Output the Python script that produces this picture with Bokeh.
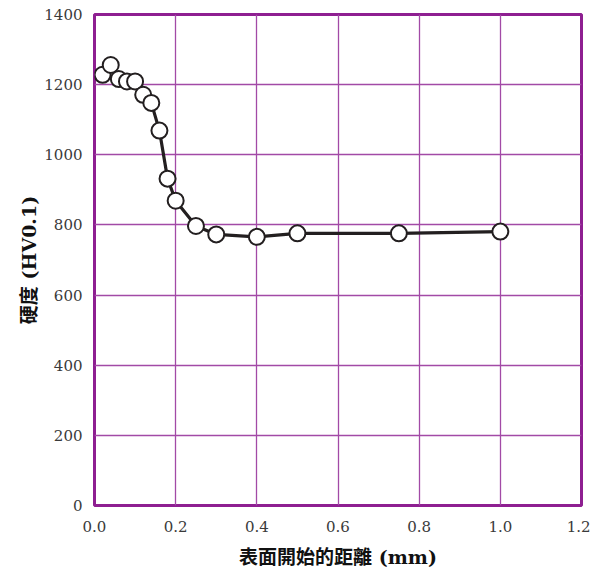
from bokeh.plotting import figure
from bokeh.models import ColumnDataSource, FixedTicker, Range1d
from bokeh.embed import file_html
from bokeh.resources import INLINE

# Data
distance_mm = [0.02, 0.04, 0.06, 0.08, 0.10, 0.12, 0.14, 0.16, 0.18, 0.20, 0.25, 0.30, 0.40, 0.50, 0.75, 1.00]
hardness_hv = [1228, 1256, 1216, 1209, 1209, 1171, 1148, 1069, 932, 869, 797, 773, 766, 776, 776, 781]

x_ticks = [0.0, 0.2, 0.4, 0.6, 0.8, 1.0, 1.2]
x_tick_labels = ["0.0", "0.2", "0.4", "0.6", "0.8", "1.0", "1.2"]
y_ticks = [0, 200, 400, 600, 800, 1000, 1200, 1400]

x_label = "表面開始的距離 (mm)"
y_label = "硬度 (HV0.1)"

PURPLE = "#8e1f91"
GRID = "#a24aa6"
INK = "#231f20"
SERIF = "DejaVu Serif, Noto Sans CJK TC"

src = ColumnDataSource(dict(x=distance_mm, y=hardness_hv))

p = figure(width=590, height=570, output_backend="svg", toolbar_location=None,
           x_range=Range1d(0, 1.2), y_range=Range1d(0, 1400),
           min_border_left=94, min_border_right=9, min_border_top=14, min_border_bottom=62)

p.background_fill_color = "white"
p.border_fill_color = "white"
p.outline_line_color = PURPLE
p.outline_line_width = 3

p.xaxis.ticker = FixedTicker(ticks=x_ticks)
p.yaxis.ticker = FixedTicker(ticks=y_ticks)
p.xaxis.major_label_overrides = {t: l for t, l in zip(x_ticks, x_tick_labels)}
p.yaxis.major_label_overrides = {t: str(t) for t in y_ticks}

for ax in (p.xaxis, p.yaxis):
    ax.axis_line_color = None
    ax.major_tick_line_color = None
    ax.minor_tick_line_color = None
    ax.major_label_text_font = SERIF
    ax.major_label_text_font_size = "15px"
    ax.major_label_text_color = "#3a3a3a"
    ax.axis_label_text_font = SERIF
    ax.axis_label_text_font_size = "19px"
    ax.axis_label_text_font_style = "bold"
    ax.axis_label_text_color = "#111111"

p.xaxis.axis_label = x_label
p.yaxis.axis_label = y_label
p.xaxis.major_label_standoff = 9
p.yaxis.major_label_standoff = 6
p.xaxis.axis_label_standoff = 11
p.yaxis.axis_label_standoff = 1

p.xgrid.ticker = FixedTicker(ticks=x_ticks)
p.ygrid.ticker = FixedTicker(ticks=y_ticks)
p.grid.grid_line_color = GRID
p.grid.grid_line_width = 1.3
p.grid.grid_line_alpha = 1.0

p.line("x", "y", source=src, line_color=INK, line_width=3.2)
p.scatter("x", "y", source=src, size=16, fill_color="white",
          line_color=INK, line_width=2)

open("out.html", "w").write(file_html(p, INLINE))
